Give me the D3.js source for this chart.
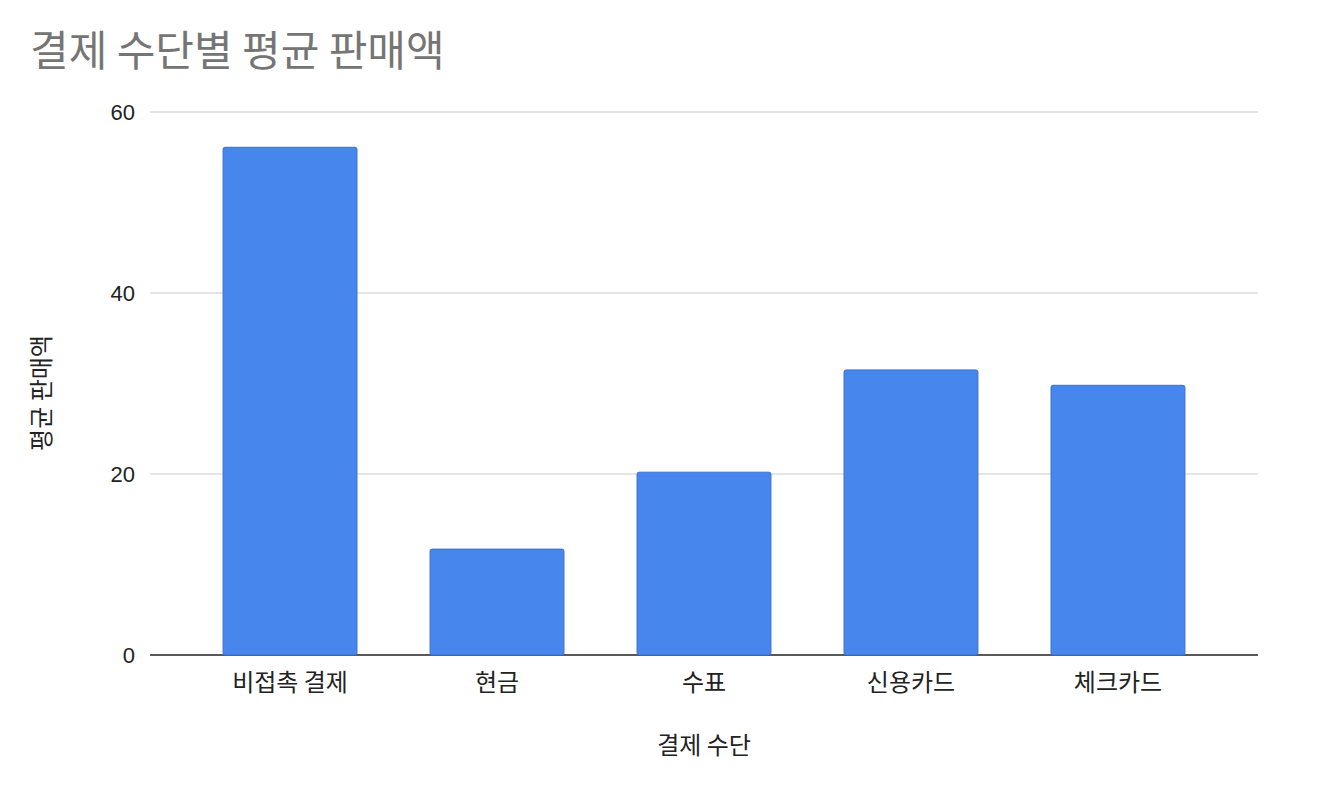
<!DOCTYPE html><html><head><meta charset="utf-8"><script src="https://cdn.jsdelivr.net/npm/d3@7"></script>
<style>body{margin:0;background:#fff}text{font-family:"Noto Sans CJK KR","Noto Sans",sans-serif}</style></head><body><svg id="c" width="1323" height="800"></svg><script>
const categories=["비접촉 결제","현금","수표","신용카드","체크카드"];
const values=[56.1,11.7,20.2,31.5,29.8];
const yTicks=[0,20,40,60];
const svg=d3.select("#c");
const m={l:150,r:1258,t:112,b:655};
const x=d3.scaleBand().domain(categories).range([m.l,m.r]).padding(0.353);
const y=d3.scaleLinear().domain([0,60]).range([m.b,m.t]);
svg.append("text").attr("x",30).attr("y",66).attr("font-size",42).attr("fill","#757575").text("결제 수단별 평균 판매액");
svg.selectAll(".g").data(yTicks).join("line").attr("x1",m.l).attr("x2",m.r).attr("y1",d=>y(d)).attr("y2",d=>y(d)).attr("stroke",d=>d?"#ccc":"#222").attr("stroke-width",d=>d?1.2:1.5);
svg.selectAll(".yt").data(yTicks).join("text").attr("x",135).attr("y",d=>y(d)+8).attr("text-anchor","end").attr("font-size",22).style("font-family","'Liberation Sans',sans-serif").attr("fill","#222").text(d=>d);
svg.selectAll(".b").data(values).join("rect").attr("x",(d,i)=>x(categories[i])).attr("width",x.bandwidth()).attr("y",d=>y(d)).attr("height",d=>y(0)-y(d)).attr("fill","#4786ec").attr("stroke","#3a70d0").attr("rx",2);
svg.selectAll(".xt").data(categories).join("text").attr("x",d=>x(d)+x.bandwidth()/2).attr("y",691).attr("text-anchor","middle").attr("font-size",24).attr("fill","#222").text(d=>d);
svg.append("text").attr("x",704).attr("y",754).attr("text-anchor","middle").attr("font-size",24).attr("fill","#222").text("결제 수단");
svg.append("text").attr("transform","translate(50,393) rotate(-90)").attr("text-anchor","middle").attr("font-size",24).attr("fill","#222").text("평균 판매액");
</script></body></html>
